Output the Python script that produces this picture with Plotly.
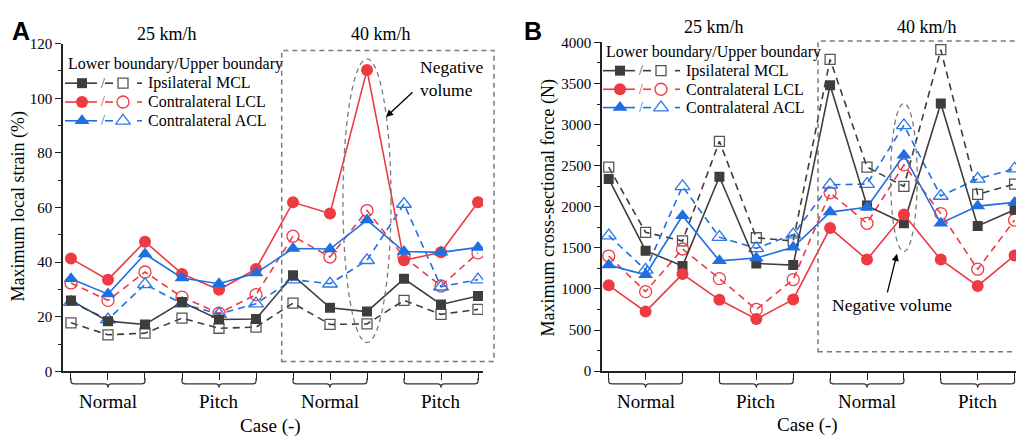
import plotly.graph_objects as go

W, H = 1016, 444
cases = list(range(1, 13))
group_labels = ["Normal", "Pitch", "Normal", "Pitch"]
speed_labels = ["25 km/h", "40 km/h"]
series_names = ["Ipsilateral MCL", "Contralateral LCL", "Contralateral ACL"]

# Panel A: Maximum local strain (%)
A_mcl_lo = [26, 18.4, 17.2, 25.4, 19, 19.2, 35.2, 23.3, 21.9, 33.9, 24.5, 27.6]
A_mcl_hi = [17.8, 13.4, 14, 19.5, 15.8, 16.2, 25, 17.2, 17.4, 26, 20.9, 22.7]
A_lcl_lo = [41.3, 33.6, 47.5, 35.7, 29.9, 37.5, 61.9, 57.8, 110.4, 40.7, 43.6, 61.9]
A_lcl_hi = [32.4, 26, 36.4, 27.2, 21.3, 28.1, 49.5, 41.9, 58.9, 41.9, 31.3, 43.4]
A_acl_lo = [33.9, 28.3, 43, 34.2, 32.1, 36, 45, 44.8, 55.4, 43.9, 43.6, 45.4]
A_acl_hi = [25.4, 19, 31.9, 24.8, 21, 24.8, 33.6, 32.1, 40.7, 61.3, 31, 33.6]

# Panel B: Maximum cross-sectional force (N)
B_mcl_lo = [2339, 1466, 1279, 2366, 1310, 1290, 3480, 2014, 1799, 3257, 1767, 1965]
B_mcl_hi = [2483, 1689, 1584, 2796, 1623, 1584, 3793, 2483, 2249, 3911, 2151, 2276]
B_lcl_lo = [1044, 724, 1181, 868, 633, 873, 1741, 1357, 1905, 1357, 1037, 1408]
B_lcl_hi = [1400, 967, 1486, 1126, 751, 1114, 2170, 1799, 2510, 1917, 1240, 1838]
B_acl_lo = [1290, 1173, 1891, 1342, 1377, 1506, 1935, 1994, 2628, 1799, 2008, 2053]
B_acl_hi = [1650, 1232, 2249, 1630, 1494, 1662, 2268, 2276, 2991, 2131, 2339, 2463]

COL = ["#3d3d3d", "#ee3a43", "#1f6fe0"]
OPEN_COL = ["#555555", "#ee3a43", "#2a78ea"]
FILLED_SYM = ["square", "circle", "triangle-up"]
OPEN_SYM = ["square-open", "circle-open", "triangle-up-open"]
MSIZE = [10, 12, 13]
OSIZE = [10, 12, 13]
SERIF = "Liberation Serif"
DASH = "7px,5px"

fig = go.Figure()


def add_panel(lo_list, hi_list, xa, ya):
    for i in range(3):
        fig.add_trace(go.Scatter(
            x=cases, y=hi_list[i], xaxis=xa, yaxis=ya, mode="lines+markers",
            line=dict(color=COL[i], width=1.6, dash=DASH),
            marker=dict(symbol=OPEN_SYM[i], size=OSIZE[i], color=OPEN_COL[i],
                        line=dict(width=1.3, color=OPEN_COL[i])),
            showlegend=False, hoverinfo="skip"))
    for i in range(3):
        fig.add_trace(go.Scatter(
            x=cases, y=lo_list[i], xaxis=xa, yaxis=ya, mode="lines+markers",
            line=dict(color=COL[i], width=1.6),
            marker=dict(symbol=FILLED_SYM[i], size=MSIZE[i], color=COL[i]),
            showlegend=False, hoverinfo="skip"))


add_panel([A_mcl_lo, A_lcl_lo, A_acl_lo], [A_mcl_hi, A_lcl_hi, A_acl_hi], "x", "y")
add_panel([B_mcl_lo, B_lcl_lo, B_acl_lo], [B_mcl_hi, B_lcl_hi, B_acl_hi], "x2", "y2")


def px(xp, yp):
    return xp / W, 1 - yp / H


annotations = []
shapes = []


def text(xp, yp, t, size, xanchor="center", color="black", family=SERIF, angle=0, bold=False):
    x, y = px(xp, yp)
    annotations.append(dict(x=x, y=y, xref="paper", yref="paper", text=("<b>%s</b>" % t) if bold else t,
                            showarrow=False, xanchor=xanchor, yanchor="middle", textangle=angle,
                            font=dict(family=family, size=size, color=color)))


# Custom legend (pixel overlay axes x3/y3)
def legend(x0, y_head, rows_y):
    text(x0 + 1, y_head, "Lower boundary/Upper boundary", 16, xanchor="left")
    for i, name in enumerate(series_names):
        yy = rows_y[i]
        fig.add_trace(go.Scatter(x=[x0, x0 + 32], y=[yy, yy], xaxis="x3", yaxis="y3", mode="lines",
                                 line=dict(color=COL[i], width=1.6), showlegend=False, hoverinfo="skip"))
        fig.add_trace(go.Scatter(x=[x0 + 40, x0 + 48], y=[yy, yy], xaxis="x3", yaxis="y3", mode="lines",
                                 line=dict(color=COL[i], width=1.6), showlegend=False, hoverinfo="skip"))
        fig.add_trace(go.Scatter(x=[x0 + 72, x0 + 77], y=[yy, yy], xaxis="x3", yaxis="y3", mode="lines",
                                 line=dict(color=COL[i], width=1.6), showlegend=False, hoverinfo="skip"))
        fig.add_trace(go.Scatter(x=[x0 + 17], y=[yy], xaxis="x3", yaxis="y3", mode="markers",
                                 marker=dict(symbol=FILLED_SYM[i], size=MSIZE[i], color=COL[i]),
                                 showlegend=False, hoverinfo="skip"))
        fig.add_trace(go.Scatter(x=[x0 + 58], y=[yy], xaxis="x3", yaxis="y3", mode="markers",
                                 marker=dict(symbol=OPEN_SYM[i], size=OSIZE[i], color=OPEN_COL[i],
                                             line=dict(width=1.3, color=OPEN_COL[i])),
                                 showlegend=False, hoverinfo="skip"))
        text(x0 + 37.5, yy, "/", 14, color=COL[i])
        text(x0 + 81, yy, name, 16, xanchor="left")


legend(65, 58, [78, 97.5, 117])
legend(603, 46, [65, 84.3, 103.3])

# Panel letters
text(20.5, 24, "A", 25, family="Liberation Sans", bold=True)
text(533, 24, "B", 25, family="Liberation Sans", bold=True)

# Speed labels
text(167, 27, speed_labels[0], 18)
text(381, 27, speed_labels[1], 18)
text(714, 20, speed_labels[0], 18)
text(927, 20, speed_labels[1], 18)

# Axis titles
text(19, 206, "Maximum local strain (%)", 18, angle=-90)
text(549, 208, "Maximum cross-sectional force (N)", 18, angle=-90)
text(270, 434, "Case (-)", 19)
text(807, 433, "Case (-)", 19)

# Negative volume notes
x, y = px(418, 73)
annotations.append(dict(x=x, y=y, xref="paper", yref="paper", text="Negative<br>volume", showarrow=False,
                        xanchor="left", yanchor="middle", align="left",
                        font=dict(family=SERIF, size=17.5, color="black")))
text(892, 308, "Negative volume", 17.5)
for (hx, hy, tx, ty) in [(386, 113, 414, 87), (897, 255, 887, 295)]:
    x, y = px(hx, hy)
    annotations.append(dict(x=x, y=y, xref="paper", yref="paper", text="", showarrow=True,
                            ax=tx - hx, ay=ty - hy, arrowhead=2, arrowsize=1.1, arrowwidth=1.3,
                            arrowcolor="black", standoff=0, startstandoff=0))

# Group labels and braces
for xa, yp in [("x", 408), ("x2", 408)]:
    for g, lab in enumerate(group_labels):
        c1, c2, c3 = cases[3 * g], cases[3 * g + 1], cases[3 * g + 2]
        y_top = 1 - 384 / H
        y_c = 1 - 387.5 / H
        y_h = 1 - 390 / H
        y_tip = 1 - 394 / H
        d = 0.09
        path = (f"M {c1},{y_top} L {c1},{y_c} Q {c1},{y_h} {c1 + d},{y_h} "
                f"L {c2 - d},{y_h} Q {c2},{y_h} {c2},{y_tip} Q {c2},{y_h} {c2 + d},{y_h} "
                f"L {c3 - d},{y_h} Q {c3},{y_h} {c3},{y_c} L {c3},{y_top}")
        shapes.append(dict(type="path", path=path, xref=xa, yref="paper",
                           line=dict(color="#333333", width=1.2)))
        annotations.append(dict(x=c2, y=1 - yp / H, xref=xa, yref="paper", text=lab, showarrow=False,
                                xanchor="center", yanchor="middle",
                                font=dict(family=SERIF, size=19, color="black")))

# Dashed boxes (paper) and ellipses (data)
GRAY = "#7a7a7a"
x0, y1 = px(281.7, 44)
x1, y0 = px(494, 366.7)
shapes.append(dict(type="rect", xref="paper", yref="paper", x0=x0, x1=x1, y0=y0, y1=y1,
                   line=dict(color=GRAY, width=1.5, dash="5px,4px")))
x0, y1 = px(818, 34.3)
x1, y0 = px(1040, 356.7)
shapes.append(dict(type="rect", xref="paper", yref="paper", x0=x0, x1=x1, y0=y0, y1=y1,
                   line=dict(color=GRAY, width=1.5, dash="5px,4px")))
shapes.append(dict(type="circle", xref="x", yref="y", x0=8.35, x1=9.65, y0=10.6, y1=114.4,
                   line=dict(color=GRAY, width=1.3, dash="5px,4px")))
shapes.append(dict(type="circle", xref="x2", yref="y2", x0=8.64, x1=9.36, y0=1455, y1=3257,
                   line=dict(color=GRAY, width=1.3, dash="5px,4px")))

axis_common = dict(showgrid=False, zeroline=False, showline=True, linecolor="#222222", linewidth=1.6,
                   ticks="outside", tickcolor="#222222", tickwidth=1.4,
                   tickfont=dict(family=SERIF, size=15, color="black"))

fig.update_layout(
    width=W, height=H, autosize=False, margin=dict(l=0, r=0, t=0, b=0),
    paper_bgcolor="white", plot_bgcolor="rgba(0,0,0,0)", showlegend=False,
    xaxis=dict(domain=[63 / W, 483 / W], range=[0.784, 12.135], anchor="y", tickvals=cases,
               showticklabels=False, ticklen=7, **{k: v for k, v in axis_common.items() if k != "tickfont"}),
    yaxis=dict(domain=[67 / H, 407 / H], range=[0, 120], anchor="x", tickvals=[0, 20, 40, 60, 80, 100, 120],
               ticklen=6, minor=dict(tickvals=[10, 30, 50, 70, 90, 110], ticks="outside", ticklen=3,
                                     tickcolor="#222222", tickwidth=1.2), **axis_common),
    xaxis2=dict(domain=[602 / W, 1], range=[0.818, 12.038], anchor="y2", tickvals=cases,
                showticklabels=False, ticklen=7, **{k: v for k, v in axis_common.items() if k != "tickfont"}),
    yaxis2=dict(domain=[67.3 / H, 408.3 / H], range=[0, 4000], anchor="x2",
                tickvals=[0, 500, 1000, 1500, 2000, 2500, 3000, 3500, 4000], ticklen=6,
                minor=dict(tickvals=[250, 750, 1250, 1750, 2250, 2750, 3250, 3750], ticks="outside",
                           ticklen=3, tickcolor="#222222", tickwidth=1.2), **axis_common),
    xaxis3=dict(domain=[0, 1], range=[0, W], anchor="y3", visible=False, fixedrange=True),
    yaxis3=dict(domain=[0, 1], range=[H, 0], anchor="x3", visible=False, fixedrange=True),
    annotations=annotations, shapes=shapes,
)

fig.write_html("out.html", config={"responsive": False, "displayModeBar": False},
               post_script="document.body.style.margin='0';document.body.style.overflow='hidden';")
